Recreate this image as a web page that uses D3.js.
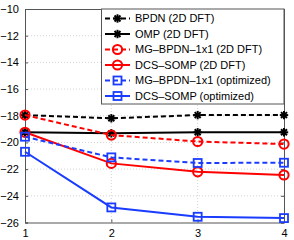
<!DOCTYPE html>
<html>
<head>
<meta charset="utf-8">
<script src="https://cdn.jsdelivr.net/npm/d3@7"></script>
<style>
  body { margin: 0; background: #fff; }
  svg { display: block; font-family: "Liberation Sans", Arial, sans-serif; }
</style>
</head>
<body>
<svg id="chart" width="294" height="240"></svg>
<script>
const xValues = [1, 2, 3, 4];
const yTicks = [-10, -12, -14, -16, -18, -20, -22, -24, -26];

const bpdnDft = [-17.95, -18.19, -17.95, -17.95];
const ompDft = [-19.24, -19.32, -19.24, -19.24];
const mgBpdnDft = [-17.95, -19.45, -19.93, -20.12];
const dcsSompDft = [-19.24, -21.57, -22.2, -22.44];
const mgBpdnOpt = [-19.57, -21.12, -21.54, -21.52];
const dcsSompOpt = [-20.7, -24.87, -25.57, -25.67];

const seriesNames = [
  "BPDN (2D DFT)",
  "OMP (2D DFT)",
  "MG\u2013BPDN\u20131x1 (2D DFT)",
  "DCS\u2013SOMP (2D DFT)",
  "MG\u2013BPDN\u20131x1 (optimized)",
  "DCS\u2013SOMP (optimized)"
];

const series = [
  { name: seriesNames[0], values: bpdnDft, color: "#000", dash: "5,3", marker: "star" },
  { name: seriesNames[1], values: ompDft, color: "#000", dash: null, marker: "star" },
  { name: seriesNames[2], values: mgBpdnDft, color: "#ff0000", dash: "5,3", marker: "circle" },
  { name: seriesNames[3], values: dcsSompDft, color: "#ff0000", dash: null, marker: "circle" },
  { name: seriesNames[4], values: mgBpdnOpt, color: "#1a3cff", dash: "5,3", marker: "square" },
  { name: seriesNames[5], values: dcsSompOpt, color: "#1a3cff", dash: null, marker: "square" }
];

const svg = d3.select("#chart");
const pLeft = 25, pRight = 284, pTop = 9, pBottom = 222.5;

const x = d3.scaleLinear().domain([1, 4]).range([pLeft, pRight]);
const y = d3.scaleLinear().domain([-26, -10]).range([pBottom, pTop]);

// grid
const grid = svg.append("g");
grid.selectAll("line.gy")
  .data(yTicks.slice(1, -1))
  .enter().append("line")
  .attr("x1", pLeft).attr("x2", pRight)
  .attr("y1", d => y(d)).attr("y2", d => y(d))
  .attr("stroke", "#c8c8c8").attr("stroke-width", 0.8)
  .attr("stroke-dasharray", "1,2");
grid.selectAll("line.gx")
  .data(xValues.slice(1, -1))
  .enter().append("line")
  .attr("x1", d => x(d)).attr("x2", d => x(d))
  .attr("y1", pTop).attr("y2", pBottom)
  .attr("stroke", "#c8c8c8").attr("stroke-width", 0.8)
  .attr("stroke-dasharray", "1,2");

// axes (ticks inside, matlab style)
const fmt = d => d < 0 ? "\u2212" + Math.abs(d) : String(d);
const yAxis = svg.append("g")
  .attr("transform", `translate(${pLeft},0)`)
  .call(d3.axisLeft(y).tickValues(yTicks).tickSize(-3).tickPadding(6).tickFormat(fmt));
const yAxisR = svg.append("g")
  .attr("transform", `translate(${pRight},0)`)
  .call(d3.axisRight(y).tickValues(yTicks).tickSize(-3).tickFormat(""));
const xAxis = svg.append("g")
  .attr("transform", `translate(0,${pBottom})`)
  .call(d3.axisBottom(x).tickValues(xValues).tickSize(-3).tickPadding(5).tickFormat(d3.format("d")));
const xAxisT = svg.append("g")
  .attr("transform", `translate(0,${pTop})`)
  .call(d3.axisTop(x).tickValues(xValues).tickSize(-3).tickFormat(""));

[yAxis, yAxisR, xAxis, xAxisT].forEach(g => {
  g.select(".domain").attr("stroke", "#555").attr("stroke-width", 1);
  g.selectAll(".tick line").attr("stroke", "#555");
  g.selectAll("text").attr("font-size", 11).attr("fill", "#000")
    .attr("font-family", "Liberation Sans, Arial, sans-serif");
});
xAxis.selectAll("text").attr("dy", "0.85em");

function drawMarker(g, type, cx, cy, color) {
  if (type === "circle") {
    g.append("circle").attr("cx", cx).attr("cy", cy).attr("r", 4.6)
      .attr("fill", "none").attr("stroke", color).attr("stroke-width", 2);
  } else if (type === "square") {
    g.append("rect").attr("x", cx - 4).attr("y", cy - 4).attr("width", 8).attr("height", 8)
      .attr("fill", "none").attr("stroke", color).attr("stroke-width", 1.8);
  } else {
    const r = 4.2;
    for (let k = 0; k < 4; k++) {
      const a = k * Math.PI / 4;
      g.append("line")
        .attr("x1", cx - r * Math.cos(a)).attr("y1", cy - r * Math.sin(a))
        .attr("x2", cx + r * Math.cos(a)).attr("y2", cy + r * Math.sin(a))
        .attr("stroke", color).attr("stroke-width", 2);
    }
  }
}

const line = d3.line().x((d, i) => x(xValues[i])).y(d => y(d));
const plot = svg.append("g");
series.forEach(s => {
  const g = plot.append("g");
  g.append("path")
    .attr("d", line(s.values))
    .attr("fill", "none")
    .attr("stroke", s.color)
    .attr("stroke-width", 2)
    .attr("stroke-dasharray", s.dash);
  s.values.forEach((v, i) => drawMarker(g, s.marker, x(xValues[i]), y(v), s.color));
});

// legend
const lg = svg.append("g");
const lgLeft = 101.5, lgTop = 9, lgRight = 284, rowH = 15.5;
lg.append("rect")
  .attr("x", lgLeft).attr("y", lgTop)
  .attr("width", lgRight - lgLeft).attr("height", 95)
  .attr("fill", "#fff").attr("stroke", "#555").attr("stroke-width", 1);
series.forEach((s, i) => {
  const cy = lgTop + 9.5 + i * rowH;
  lg.append("line")
    .attr("x1", 105).attr("x2", 130).attr("y1", cy).attr("y2", cy)
    .attr("stroke", s.color).attr("stroke-width", 2)
    .attr("stroke-dasharray", s.dash);
  drawMarker(lg, s.marker, 117.5, cy, s.color);
  lg.append("text")
    .attr("x", 135).attr("y", cy).attr("dy", "0.35em")
    .attr("font-size", 11)
    .text(s.name);
});
</script>
</body>
</html>
